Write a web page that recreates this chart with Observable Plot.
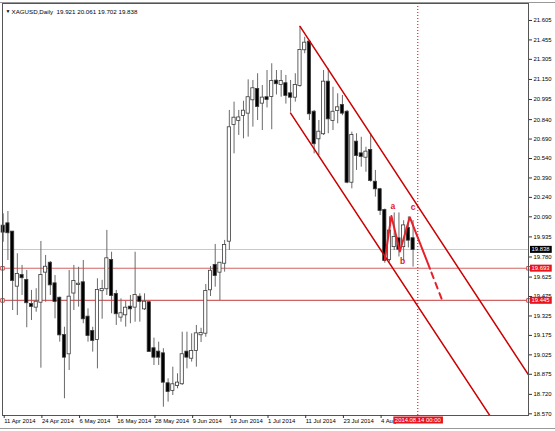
<!DOCTYPE html>
<html><head><meta charset="utf-8">
<script src="https://cdn.jsdelivr.net/npm/d3@7"></script>
<script src="https://cdn.jsdelivr.net/npm/@observablehq/plot@0.6"></script>
<style>
body{margin:0;background:#fff;}
#chart{position:relative;width:555px;height:431px;overflow:hidden;background:#fff}
</style></head><body><div id="chart"></div>
<script>
// ---- data (XAGUSD daily, 11 Apr 2014 .. 13 Aug 2014), bar index = trading day ----
const opens  = [20.018,20.036,19.972,19.555,19.637,19.599,19.414,19.393,19.431,19.663,
                19.732,19.573,19.462,19.174,19.033,19.502,19.568,19.581,19.316,19.205,
                19.144,19.520,19.535,19.753,19.491,19.316,19.334,19.393,19.393,19.470,
                19.380,19.427,19.072,19.046,19.033,18.802,18.750,18.789,18.802,19.046,
                18.999,19.059,19.180,19.192,19.527,19.715,19.663,19.732,19.902,20.802,
                20.833,20.872,20.890,20.993,21.073,20.967,21.009,21.019,21.137,21.111,
                21.117,21.039,21.013,21.103,21.379,21.438,20.897,20.692,20.731,21.129,
                20.833,20.910,20.949,20.897,20.357,20.666,20.576,20.550,20.602,20.357,
                20.299,20.139,19.760,19.860,19.920,19.860,20.000,19.921];
const highs  = [20.113,20.131,19.975,19.805,19.715,19.676,19.522,19.535,19.900,19.792,
                19.745,19.637,19.470,19.238,19.676,19.715,19.701,19.753,19.380,19.238,
                19.612,19.600,19.985,19.817,19.522,19.457,19.437,19.483,19.817,19.496,
                19.496,19.437,19.154,19.123,19.072,18.840,18.930,18.879,19.200,19.200,
                19.187,19.252,19.230,19.568,19.707,19.877,19.732,19.908,20.911,20.975,
                20.911,20.982,21.147,21.142,21.194,21.103,21.219,21.271,21.219,21.219,
                21.181,21.142,21.194,21.559,21.476,21.451,20.911,20.833,21.219,21.232,
                21.090,21.039,21.026,20.911,20.743,20.731,20.704,20.627,20.731,20.448,
                20.310,20.150,20.090,20.120,20.120,20.060,20.090,20.061];
const lows   = [19.894,19.753,19.367,19.329,19.483,19.234,19.290,19.354,18.922,19.431,
                19.483,19.303,19.123,18.686,18.904,19.367,19.393,19.265,19.123,19.046,
                18.917,19.300,19.483,19.342,19.252,19.277,19.239,19.265,19.277,19.277,
                19.367,19.046,18.943,18.943,18.621,18.660,18.711,18.763,18.789,18.917,
                18.969,18.930,19.120,19.161,19.475,19.547,19.444,19.663,19.830,20.576,
                20.718,20.692,20.705,20.782,20.833,20.756,20.930,20.762,21.030,21.013,
                20.960,20.897,20.975,21.090,21.348,20.833,20.576,20.563,20.718,20.731,
                20.756,20.808,20.870,20.345,20.306,20.448,20.473,20.434,20.357,20.242,
                20.100,19.732,19.740,19.830,19.780,19.750,19.850,19.702];
const closes = [19.972,19.967,19.599,19.645,19.620,19.427,19.398,19.431,19.637,19.701,
                19.565,19.437,19.179,19.007,19.470,19.591,19.570,19.303,19.174,19.136,
                19.522,19.530,19.766,19.483,19.342,19.342,19.385,19.380,19.483,19.437,
                19.431,19.051,19.007,19.007,18.814,18.742,18.794,18.807,19.026,19.007,
                19.051,19.187,19.190,19.514,19.670,19.637,19.732,19.869,20.777,20.851,
                20.853,20.905,21.009,21.078,20.941,21.006,20.996,21.134,21.117,21.134,
                21.027,21.013,21.103,21.374,21.430,20.885,20.654,20.743,21.129,20.846,
                20.897,20.931,20.890,20.357,20.718,20.563,20.556,20.589,20.371,20.306,
                20.139,19.753,19.980,19.930,19.840,20.020,19.910,19.838];

const symbolName = "XAGUSD,Daily";
const tickIndex  = [0, 8, 16, 24, 32, 40, 48, 56, 64, 72, 80];
const tickLabels = ["11 Apr 2014","24 Apr 2014","6 May 2014","16 May 2014","28 May 2014",
                    "9 Jun 2014","19 Jun 2014","1 Jul 2014","11 Jul 2014","23 Jul 2014","4 Aug 2014"];
const priceTicks = [21.605,21.455,21.305,21.150,20.995,20.840,20.690,20.540,20.390,20.240,
                    20.090,19.935,19.780,19.625,19.475,19.325,19.175,19.025,18.875,18.720,18.570];
const bidPrice = 19.838;
const levels = [19.693, 19.445];
const cursorIndex = 88;
const cursorLabel = "2014.08.14 00:00";

// analysis drawings: [bar index, price]
const upperChannel = [[63, 21.559], [111.5, 18.87]];
const lowerChannel = [[61, 20.89], [104.5, 18.49]];
const abcSolid  = [[81, 19.76], [82.4, 20.097], [84.2, 19.823], [86.3, 20.087], [90.6, 19.689]];
const abcDashed = [[90.9, 19.66], [93.2, 19.444]];
const abcNames  = ["a", "b", "c"];
const abcLabelX = [82.7, 84.8, 87.0];
const abcLabelY = [20.17, 19.75, 20.16];

const xDomain = [-0.15, 111.5];
const yDomain = [18.557, 21.736];

const candles = opens.map((o, i) => ({i, o, h: highs[i], l: lows[i], c: closes[i]}));
const last = candles[candles.length - 1];
const header = `${symbolName}  ${last.o.toFixed(3)} ${last.h.toFixed(3)} ${last.l.toFixed(3)} ${last.c.toFixed(3)}`;
const levelMarks = levels.flatMap(p => xDomain.map(x => ({x, p})));
const abcLabels = abcNames.map((t, k) => ({t, x: abcLabelX[k], y: abcLabelY[k]}));

const FONT = "Liberation Sans, Arial, sans-serif";
const chartRed = "#cc0000";
const FS = 5.9;

const plot = Plot.plot({
  width: 555, height: 431,
  marginLeft: 2, marginRight: 27, marginTop: 3, marginBottom: 16,
  style: {fontFamily: FONT, fontSize: FS + "px", background: "#fff", color: "#000"},
  x: {type: "linear", domain: xDomain},
  y: {domain: yDomain},
  marks: [
    Plot.ruleY([bidPrice], {stroke: "#c8c8c8", strokeWidth: 1}),
    Plot.ruleY(levels, {stroke: "#c84848", strokeWidth: 1.2, strokeOpacity: 0.85}),
    Plot.ruleX([cursorIndex], {stroke: chartRed, strokeWidth: 1, strokeDasharray: "1,2"}),
    Plot.ruleX(candles, {x: "i", y1: "l", y2: "h", stroke: "#6a6a6a", strokeWidth: 1}),
    Plot.rect(candles, {
      x1: d => d.i - 0.34, x2: d => d.i + 0.34, y1: "o", y2: "c",
      insetTop: -0.5, insetBottom: -0.5,
      fill: d => d.c >= d.o ? "#fff" : "#000", stroke: "#3a3a3a", strokeWidth: 0.8
    }),
    Plot.line(upperChannel, {x: d => d[0], y: d => d[1], stroke: chartRed, strokeWidth: 1.5, clip: true}),
    Plot.line(lowerChannel, {x: d => d[0], y: d => d[1], stroke: chartRed, strokeWidth: 1.5, clip: true}),
    Plot.line(abcSolid, {x: d => d[0], y: d => d[1], stroke: "#e8202a", strokeWidth: 2}),
    Plot.line(abcDashed, {x: d => d[0], y: d => d[1], stroke: "#e8202a", strokeWidth: 2, strokeDasharray: "6,5"}),
    Plot.text(abcLabels, {x: "x", y: "y", text: "t", fill: "#e02020", fontSize: 8.5, fontWeight: "bold"}),
    Plot.dot(levelMarks, {x: "x", y: "p", symbol: "square", r: 2, stroke: "#d04545", fill: "#fff", strokeWidth: 1}),
    Plot.frame({stroke: "#555"}),
    Plot.axisY(priceTicks, {anchor: "right", tickSize: 3, tickPadding: 2, fontSize: FS,
      tickFormat: d => d.toFixed(3), stroke: "#333"}),
    Plot.axisX(tickIndex, {anchor: "bottom", tickSize: 3, tickPadding: 0, fontSize: FS,
      textAnchor: "start", dx: 1, tickFormat: d => tickLabels[tickIndex.indexOf(d)], stroke: "#333"}),
    Plot.text([bidPrice], {x: xDomain[1], y: d => d, text: d => d.toFixed(3), dx: 3, textAnchor: "start",
      fill: "#fff", fontSize: FS, className: "bg-black"}),
    Plot.text(levels, {x: xDomain[1], y: d => d, text: d => d.toFixed(3), dx: 3, textAnchor: "start",
      fill: "#fff", fontSize: FS, className: "bg-red"}),
    Plot.text([cursorLabel], {x: cursorIndex, frameAnchor: "bottom", dy: 6.5, text: d => d,
      fill: "#fff", fontSize: FS, className: "bg-red"}),
    Plot.text([header], {frameAnchor: "top-left", dx: 9, dy: 6, textAnchor: "start", text: d => d,
      fill: "#000", fontSize: 6.2}),
    Plot.text(["▼"], {frameAnchor: "top-left", dx: 3, dy: 6, textAnchor: "start", text: d => d,
      fill: "#000", fontSize: 5})
  ]
});

document.getElementById("chart").appendChild(plot);

// label backgrounds
const svg = d3.select(plot);
[["bg-black", "#000"], ["bg-red", "#e8141c"]].forEach(([cls, color]) => {
  svg.selectAll(`g.${cls} text`).each(function () {
    const b = this.getBBox();
    d3.select(this.parentNode).insert("rect", () => this)
      .attr("x", b.x - 1.5).attr("y", b.y - 0.5)
      .attr("width", b.width + 3).attr("height", b.height + 1)
      .attr("fill", color)
      .attr("transform", this.getAttribute("transform"));
  });
});
// window border lines
svg.append("line").attr("x1", 0).attr("x2", 555).attr("y1", 2.5).attr("y2", 2.5).attr("stroke", "#999");
svg.append("line").attr("x1", 0).attr("x2", 555).attr("y1", 428.5).attr("y2", 428.5).attr("stroke", "#999");
</script></body></html>
